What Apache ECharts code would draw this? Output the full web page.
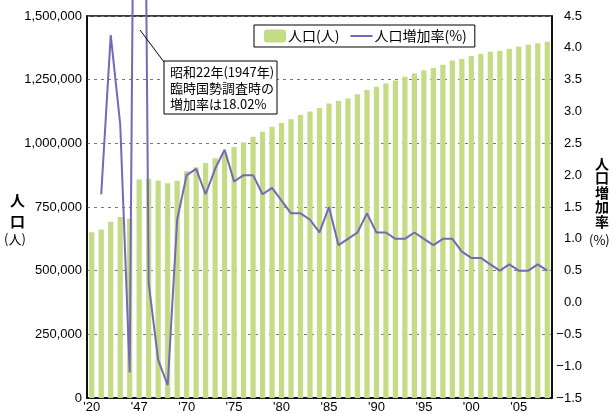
<!DOCTYPE html>
<html><head><meta charset="utf-8">
<script src="https://cdn.jsdelivr.net/npm/echarts@6/dist/echarts.min.js"></script>
<style>html,body{margin:0;padding:0;background:#fff}#c{width:614px;height:414px}</style>
</head><body><div id="c"></div>
<script>
const categories = ["'20","'25","'30","'35","'40","'47","'50","'55","'60","'65",
 "'70","'71","'72","'73","'74","'75","'76","'77","'78","'79",
 "'80","'81","'82","'83","'84","'85","'86","'87","'88","'89",
 "'90","'91","'92","'93","'94","'95","'96","'97","'98","'99",
 "'00","'01","'02","'03","'04","'05","'06","'07","'08"];
const population = [651000,662000,692000,711000,704000,858000,861000,854000,843000,853000,
 890000,906000,923000,941000,961000,986000,1004000,1026000,1045000,1065000,
 1080000,1095000,1111000,1125000,1139000,1156000,1166000,1176000,1193000,1209000,
 1222000,1235000,1247000,1261000,1274000,1287000,1296000,1309000,1325000,1331000,
 1343000,1352000,1360000,1363000,1371000,1380000,1387000,1393000,1399000];
const growthRate = [null,1.7,4.2,2.8,-1.1,18.02,0.3,-0.9,-1.3,1.3,
 2.0,2.1,1.7,2.1,2.4,1.9,2.0,2.0,1.7,1.8,
 1.6,1.4,1.4,1.3,1.1,1.5,0.9,1.0,1.1,1.4,
 1.1,1.1,1.0,1.0,1.1,1.0,0.9,1.0,1.0,0.8,
 0.7,0.7,0.6,0.5,0.6,0.5,0.5,0.6,0.5];
const seriesNames = ['人口(人)','人口増加率(%)'];
const noteLines = ['昭和22年(1947年)','臨時国勢調査時の','増加率は18.02%'];

const chart = echarts.init(document.getElementById('c'), null, {renderer:'canvas'});
const numFont = 'Liberation Sans, Arial, sans-serif';
const jpFont = 'Noto Sans CJK JP, sans-serif';
const lineColor = '#7668b8';
chart.setOption({
  animation:false,
  grid:{left:87,right:62,top:16,bottom:13,show:true,borderColor:'#000',borderWidth:1.5,backgroundColor:'transparent'},
  legend:{
    left:254, top:25,
    data:[{name:seriesNames[0]},{name:seriesNames[1],itemStyle:{opacity:0,borderWidth:0},lineStyle:{color:lineColor,width:2,opacity:1}}],
    backgroundColor:'#fff', borderColor:'#000', borderWidth:1,
    padding:[4,8,4,10], itemGap:10, itemWidth:22, itemHeight:13,
    textStyle:{fontFamily:jpFont,fontSize:14,color:'#000',padding:[0,0,0,-3]}
  },
  xAxis:{
    type:'category', data:categories,
    axisLine:{lineStyle:{color:'#000',width:1.5}}, axisTick:{show:false},
    axisLabel:{interval:4, fontFamily:numFont, fontSize:13, color:'#000', margin:3}
  },
  yAxis:[{
    type:'value', min:0, max:1500000, interval:250000,
    axisLine:{show:true,lineStyle:{color:'#000',width:1.5}}, axisTick:{show:false},
    axisLabel:{fontFamily:numFont,fontSize:13,color:'#000',margin:5,
      formatter:v=>v.toLocaleString('en-US')},
    splitLine:{show:true,lineStyle:{color:'#777',type:[3,4],width:1}}
  },{
    type:'value', min:-1.5, max:4.5, interval:0.5, position:'right',
    axisLine:{show:true,lineStyle:{color:'#000',width:1.5}}, axisTick:{show:false},
    axisLabel:{fontFamily:numFont,fontSize:13,color:'#000',margin:30,align:'right',
      formatter:v=>v.toFixed(1).replace('-','\u2212')},
    splitLine:{show:false}
  }],
  series:[{
    name:seriesNames[0], type:'bar', data:population, barWidth:'55%',
    itemStyle:{color:'#c3dc85'}
  },{
    name:seriesNames[1], type:'line', yAxisIndex:1, data:growthRate, clip:false,
    symbol:'none', showSymbol:false, connectNulls:false,
    lineStyle:{color:lineColor,width:2}, itemStyle:{color:lineColor}
  }],
  graphic:[
    {type:'line',shape:{x1:140,y1:30,x2:164,y2:62},style:{stroke:'#000',lineWidth:1},z:10},
    {type:'rect',shape:{x:164,y:61,width:113,height:53},style:{fill:'#fff',stroke:'#000',lineWidth:1},z:10},
    {type:'text',left:170,top:64,z:11,style:{text:noteLines.join('\n'),font:'13px '+jpFont,lineHeight:16,fill:'#000'}},
    {type:'text',left:10,top:190,z:11,style:{text:'人\n口',font:'bold 15px '+jpFont,lineHeight:21,fill:'#000'}},
    {type:'text',left:4,top:233,z:11,style:{text:'(人)',font:'13px '+jpFont,fill:'#000'}},
    {type:'text',left:595,top:156,z:11,style:{text:'人\n口\n増\n加\n率',font:'bold 14px '+jpFont,lineHeight:14.5,fill:'#000'}},
    {type:'text',left:589,top:234,z:11,style:{text:'(%)',font:'13px '+jpFont,fill:'#000'}}
  ]
});
</script></body></html>
